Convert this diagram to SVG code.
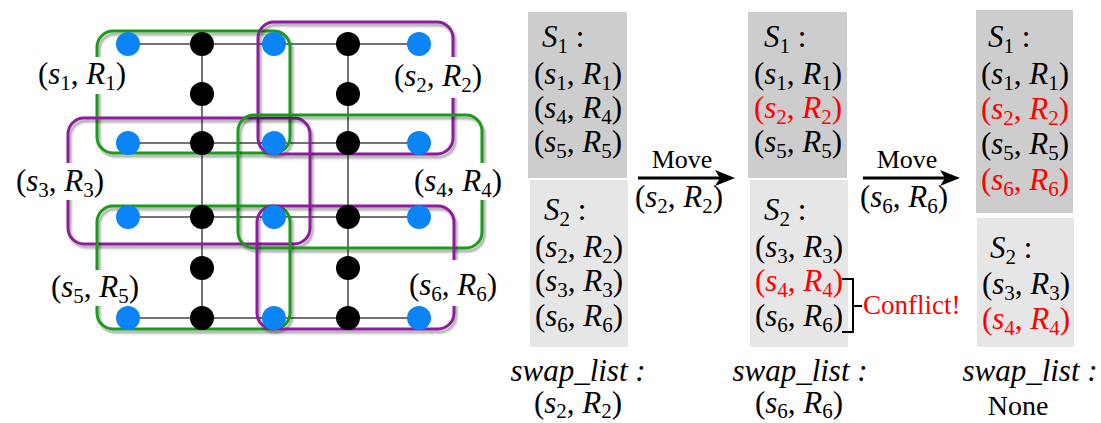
<svg xmlns="http://www.w3.org/2000/svg" width="1101" height="423" viewBox="0 0 1101 423">
  <defs>
    <filter id="shadow" x="-10%" y="-10%" width="120%" height="120%">
      <feDropShadow dx="2" dy="3" stdDeviation="1.3" flood-color="#000" flood-opacity="0.35"/>
    </filter>
    <marker id="head" viewBox="0 0 20 16" refX="13" refY="8" markerWidth="20" markerHeight="16" markerUnits="userSpaceOnUse" orient="auto">
      <path d="M0,0 L20,8 L0,16 L5,8 Z" fill="#000"/>
    </marker>
  </defs>
  <style>
    .edge { stroke: #444; stroke-width: 1.5; fill: none; }
    .q { fill: #0a84f7; }
    .b { fill: #000; }
    .grp { fill: none; stroke-width: 3; filter: url(#shadow); }
    .green { stroke: #1a9a1a; }
    .purple { stroke: #8e1a9e; }
    .bg { fill: #fff; }
    .m { font-family: "Liberation Serif", "Times New Roman", serif; font-size: 31px; fill: #000; }
    .up { font-family: "Liberation Serif", "Times New Roman", serif; font-size: 26px; fill: #000; }
    .red { fill: #ff0000; }
    .i { font-style: italic; }
    .sb { font-size: 21px; }
    .s1 { fill: #cdcdcd; }
    .s2 { fill: #e6e6e6; }
    .arrow { stroke: #000; stroke-width: 3; fill: none; }
    .brk { stroke: #000; stroke-width: 2; fill: none; }
  </style>

  <!-- coupling graph edges -->
  <g id="connectors">
    <path class="edge" d="M128,44 H419 M128,143 H419 M128,217 H419 M128,318 H419 M202,44 V318 M348,44 V318"/>
  </g>

  <!-- groups of qubits -->
  <g id="groups">
    <rect id="g1" class="grp green" x="97" y="31" width="193" height="122" rx="16"/>
    <rect id="g2" class="grp purple" x="258" y="22" width="195" height="132" rx="16"/>
    <rect id="g3" class="grp purple" x="68" y="118" width="242" height="126" rx="16"/>
    <rect id="g4" class="grp green" x="238" y="115" width="244" height="133" rx="16"/>
    <rect id="g5" class="grp green" x="97" y="206" width="193" height="123" rx="16"/>
    <rect id="g6" class="grp purple" x="257" y="206" width="197" height="123" rx="16"/>
  </g>

  <!-- nodes -->
  <g id="n-r0c0"><circle class="q" cx="128" cy="44" r="12"/></g>
  <g id="n-r0c1"><circle class="b" cx="202" cy="44" r="12"/></g>
  <g id="n-r0c2"><circle class="q" cx="274" cy="44" r="12"/></g>
  <g id="n-r0c3"><circle class="b" cx="348" cy="44" r="12"/></g>
  <g id="n-r0c4"><circle class="q" cx="419" cy="44" r="12"/></g>
  <g id="n-m0c1"><circle class="b" cx="202" cy="94" r="12"/></g>
  <g id="n-m0c3"><circle class="b" cx="348" cy="94" r="12"/></g>
  <g id="n-r1c0"><circle class="q" cx="128" cy="143" r="12"/></g>
  <g id="n-r1c1"><circle class="b" cx="202" cy="143" r="12"/></g>
  <g id="n-r1c2"><circle class="q" cx="274" cy="143" r="12"/></g>
  <g id="n-r1c3"><circle class="b" cx="348" cy="143" r="12"/></g>
  <g id="n-r1c4"><circle class="q" cx="419" cy="143" r="12"/></g>
  <g id="n-r2c0"><circle class="q" cx="128" cy="217" r="12"/></g>
  <g id="n-r2c1"><circle class="b" cx="202" cy="217" r="12"/></g>
  <g id="n-r2c2"><circle class="q" cx="274" cy="217" r="12"/></g>
  <g id="n-r2c3"><circle class="b" cx="348" cy="217" r="12"/></g>
  <g id="n-r2c4"><circle class="q" cx="419" cy="217" r="12"/></g>
  <g id="n-m1c1"><circle class="b" cx="202" cy="268" r="12"/></g>
  <g id="n-m1c3"><circle class="b" cx="348" cy="268" r="12"/></g>
  <g id="n-r3c0"><circle class="q" cx="128" cy="318" r="12"/></g>
  <g id="n-r3c1"><circle class="b" cx="202" cy="318" r="12"/></g>
  <g id="n-r3c2"><circle class="q" cx="274" cy="318" r="12"/></g>
  <g id="n-r3c3"><circle class="b" cx="348" cy="318" r="12"/></g>
  <g id="n-r3c4"><circle class="q" cx="419" cy="318" r="12"/></g>

  <!-- group labels -->
  <g id="label-1">
    <rect class="bg" x="33" y="57" width="99" height="37"/>
    <text class="m" x="82" y="84" text-anchor="middle">(<tspan class="i">s</tspan><tspan class="sb" dy="6">1</tspan><tspan dy="-6">, </tspan><tspan class="i">R</tspan><tspan class="sb" dy="6">1</tspan><tspan dy="-6">)</tspan></text>
  </g>
  <g id="label-2">
    <rect class="bg" x="389" y="57" width="99" height="41"/>
    <text class="m" x="438" y="86" text-anchor="middle">(<tspan class="i">s</tspan><tspan class="sb" dy="6">2</tspan><tspan dy="-6">, </tspan><tspan class="i">R</tspan><tspan class="sb" dy="6">2</tspan><tspan dy="-6">)</tspan></text>
  </g>
  <g id="label-3">
    <rect class="bg" x="10" y="163" width="99" height="37"/>
    <text class="m" x="60" y="191" text-anchor="middle">(<tspan class="i">s</tspan><tspan class="sb" dy="6">3</tspan><tspan dy="-6">, </tspan><tspan class="i">R</tspan><tspan class="sb" dy="6">3</tspan><tspan dy="-6">)</tspan></text>
  </g>
  <g id="label-4">
    <rect class="bg" x="409" y="163" width="99" height="37"/>
    <text class="m" x="458" y="191" text-anchor="middle">(<tspan class="i">s</tspan><tspan class="sb" dy="6">4</tspan><tspan dy="-6">, </tspan><tspan class="i">R</tspan><tspan class="sb" dy="6">4</tspan><tspan dy="-6">)</tspan></text>
  </g>
  <g id="label-5">
    <rect class="bg" x="45" y="270" width="99" height="36"/>
    <text class="m" x="95" y="297" text-anchor="middle">(<tspan class="i">s</tspan><tspan class="sb" dy="6">5</tspan><tspan dy="-6">, </tspan><tspan class="i">R</tspan><tspan class="sb" dy="6">5</tspan><tspan dy="-6">)</tspan></text>
  </g>
  <g id="label-6">
    <rect class="bg" x="404" y="260" width="99" height="46"/>
    <text class="m" x="453" y="295" text-anchor="middle">(<tspan class="i">s</tspan><tspan class="sb" dy="6">6</tspan><tspan dy="-6">, </tspan><tspan class="i">R</tspan><tspan class="sb" dy="6">6</tspan><tspan dy="-6">)</tspan></text>
  </g>

  <!-- state 1 -->
  <g id="state-1">
    <rect class="s1" x="528" y="12" width="99" height="166"/>
    <rect class="s2" x="530" y="180" width="98" height="167"/>
    <text class="m" x="542" y="47"><tspan class="i">S</tspan><tspan class="sb" dy="6">1</tspan><tspan dy="-6"> :</tspan></text>
    <g text-anchor="middle">
      <text class="m" x="578" y="84">(<tspan class="i">s</tspan><tspan class="sb" dy="6">1</tspan><tspan dy="-6">, </tspan><tspan class="i">R</tspan><tspan class="sb" dy="6">1</tspan><tspan dy="-6">)</tspan></text>
      <text class="m" x="578" y="118">(<tspan class="i">s</tspan><tspan class="sb" dy="6">4</tspan><tspan dy="-6">, </tspan><tspan class="i">R</tspan><tspan class="sb" dy="6">4</tspan><tspan dy="-6">)</tspan></text>
      <text class="m" x="578" y="152">(<tspan class="i">s</tspan><tspan class="sb" dy="6">5</tspan><tspan dy="-6">, </tspan><tspan class="i">R</tspan><tspan class="sb" dy="6">5</tspan><tspan dy="-6">)</tspan></text>
    </g>
    <text class="m" x="544" y="220"><tspan class="i">S</tspan><tspan class="sb" dy="6">2</tspan><tspan dy="-6"> :</tspan></text>
    <g text-anchor="middle">
      <text class="m" x="579" y="257">(<tspan class="i">s</tspan><tspan class="sb" dy="6">2</tspan><tspan dy="-6">, </tspan><tspan class="i">R</tspan><tspan class="sb" dy="6">2</tspan><tspan dy="-6">)</tspan></text>
      <text class="m" x="579" y="291">(<tspan class="i">s</tspan><tspan class="sb" dy="6">3</tspan><tspan dy="-6">, </tspan><tspan class="i">R</tspan><tspan class="sb" dy="6">3</tspan><tspan dy="-6">)</tspan></text>
      <text class="m" x="579" y="326">(<tspan class="i">s</tspan><tspan class="sb" dy="6">6</tspan><tspan dy="-6">, </tspan><tspan class="i">R</tspan><tspan class="sb" dy="6">6</tspan><tspan dy="-6">)</tspan></text>
      <text class="m i" x="578" y="381">swap_list :</text>
      <text class="m" x="578" y="413">(<tspan class="i">s</tspan><tspan class="sb" dy="5">2</tspan><tspan dy="-5">, </tspan><tspan class="i">R</tspan><tspan class="sb" dy="5">2</tspan><tspan dy="-5">)</tspan></text>
    </g>
  </g>

  <!-- move 1 -->
  <g id="move-1">
    <path class="arrow" d="M638,178 H728" marker-end="url(#head)"/>
    <text class="up" x="682" y="168" text-anchor="middle">Move</text>
    <text class="m" x="679" y="207" text-anchor="middle">(<tspan class="i">s</tspan><tspan class="sb" dy="6">2</tspan><tspan dy="-6">, </tspan><tspan class="i">R</tspan><tspan class="sb" dy="6">2</tspan><tspan dy="-6">)</tspan></text>
  </g>

  <!-- state 2 -->
  <g id="state-2">
    <rect class="s1" x="748" y="12" width="99" height="166"/>
    <rect class="s2" x="750" y="180" width="98" height="167"/>
    <text class="m" x="764" y="47"><tspan class="i">S</tspan><tspan class="sb" dy="6">1</tspan><tspan dy="-6"> :</tspan></text>
    <g text-anchor="middle">
      <text class="m" x="798" y="84">(<tspan class="i">s</tspan><tspan class="sb" dy="6">1</tspan><tspan dy="-6">, </tspan><tspan class="i">R</tspan><tspan class="sb" dy="6">1</tspan><tspan dy="-6">)</tspan></text>
      <text class="m red" x="798" y="118">(<tspan class="i">s</tspan><tspan class="sb" dy="6">2</tspan><tspan dy="-6">, </tspan><tspan class="i">R</tspan><tspan class="sb" dy="6">2</tspan><tspan dy="-6">)</tspan></text>
      <text class="m" x="798" y="152">(<tspan class="i">s</tspan><tspan class="sb" dy="6">5</tspan><tspan dy="-6">, </tspan><tspan class="i">R</tspan><tspan class="sb" dy="6">5</tspan><tspan dy="-6">)</tspan></text>
    </g>
    <text class="m" x="764" y="220"><tspan class="i">S</tspan><tspan class="sb" dy="6">2</tspan><tspan dy="-6"> :</tspan></text>
    <g text-anchor="middle">
      <text class="m" x="799" y="257">(<tspan class="i">s</tspan><tspan class="sb" dy="6">3</tspan><tspan dy="-6">, </tspan><tspan class="i">R</tspan><tspan class="sb" dy="6">3</tspan><tspan dy="-6">)</tspan></text>
      <text class="m red" x="799" y="291">(<tspan class="i">s</tspan><tspan class="sb" dy="6">4</tspan><tspan dy="-6">, </tspan><tspan class="i">R</tspan><tspan class="sb" dy="6">4</tspan><tspan dy="-6">)</tspan></text>
      <text class="m" x="799" y="326">(<tspan class="i">s</tspan><tspan class="sb" dy="6">6</tspan><tspan dy="-6">, </tspan><tspan class="i">R</tspan><tspan class="sb" dy="6">6</tspan><tspan dy="-6">)</tspan></text>
      <text class="m i" x="800" y="381">swap_list :</text>
      <text class="m" x="799" y="413">(<tspan class="i">s</tspan><tspan class="sb" dy="5">6</tspan><tspan dy="-5">, </tspan><tspan class="i">R</tspan><tspan class="sb" dy="5">6</tspan><tspan dy="-5">)</tspan></text>
    </g>
    <path class="brk" d="M842,279 H853 V332 H842 M853,306 H862"/>
    <text class="up red" x="863" y="314" style="font-size:27px">Conflict!</text>
  </g>

  <!-- move 2 -->
  <g id="move-2">
    <path class="arrow" d="M863,178 H953" marker-end="url(#head)"/>
    <text class="up" x="907" y="168" text-anchor="middle">Move</text>
    <text class="m" x="904" y="207" text-anchor="middle">(<tspan class="i">s</tspan><tspan class="sb" dy="6">6</tspan><tspan dy="-6">, </tspan><tspan class="i">R</tspan><tspan class="sb" dy="6">6</tspan><tspan dy="-6">)</tspan></text>
  </g>

  <!-- state 3 -->
  <g id="state-3">
    <rect class="s1" x="976" y="10" width="97" height="203"/>
    <rect class="s2" x="977" y="218" width="97" height="129"/>
    <text class="m" x="988" y="47"><tspan class="i">S</tspan><tspan class="sb" dy="6">1</tspan><tspan dy="-6"> :</tspan></text>
    <g text-anchor="middle">
      <text class="m" x="1025" y="84">(<tspan class="i">s</tspan><tspan class="sb" dy="6">1</tspan><tspan dy="-6">, </tspan><tspan class="i">R</tspan><tspan class="sb" dy="6">1</tspan><tspan dy="-6">)</tspan></text>
      <text class="m red" x="1025" y="119">(<tspan class="i">s</tspan><tspan class="sb" dy="6">2</tspan><tspan dy="-6">, </tspan><tspan class="i">R</tspan><tspan class="sb" dy="6">2</tspan><tspan dy="-6">)</tspan></text>
      <text class="m" x="1025" y="154">(<tspan class="i">s</tspan><tspan class="sb" dy="6">5</tspan><tspan dy="-6">, </tspan><tspan class="i">R</tspan><tspan class="sb" dy="6">5</tspan><tspan dy="-6">)</tspan></text>
      <text class="m red" x="1025" y="190">(<tspan class="i">s</tspan><tspan class="sb" dy="6">6</tspan><tspan dy="-6">, </tspan><tspan class="i">R</tspan><tspan class="sb" dy="6">6</tspan><tspan dy="-6">)</tspan></text>
    </g>
    <text class="m" x="990" y="258"><tspan class="i">S</tspan><tspan class="sb" dy="6">2</tspan><tspan dy="-6"> :</tspan></text>
    <g text-anchor="middle">
      <text class="m" x="1026" y="294">(<tspan class="i">s</tspan><tspan class="sb" dy="6">3</tspan><tspan dy="-6">, </tspan><tspan class="i">R</tspan><tspan class="sb" dy="6">3</tspan><tspan dy="-6">)</tspan></text>
      <text class="m red" x="1026" y="329">(<tspan class="i">s</tspan><tspan class="sb" dy="6">4</tspan><tspan dy="-6">, </tspan><tspan class="i">R</tspan><tspan class="sb" dy="6">4</tspan><tspan dy="-6">)</tspan></text>
      <text class="m i" x="1030" y="381">swap_list :</text>
      <text class="up" x="1018" y="415" style="font-size:28px">None</text>
    </g>
  </g>
</svg>
